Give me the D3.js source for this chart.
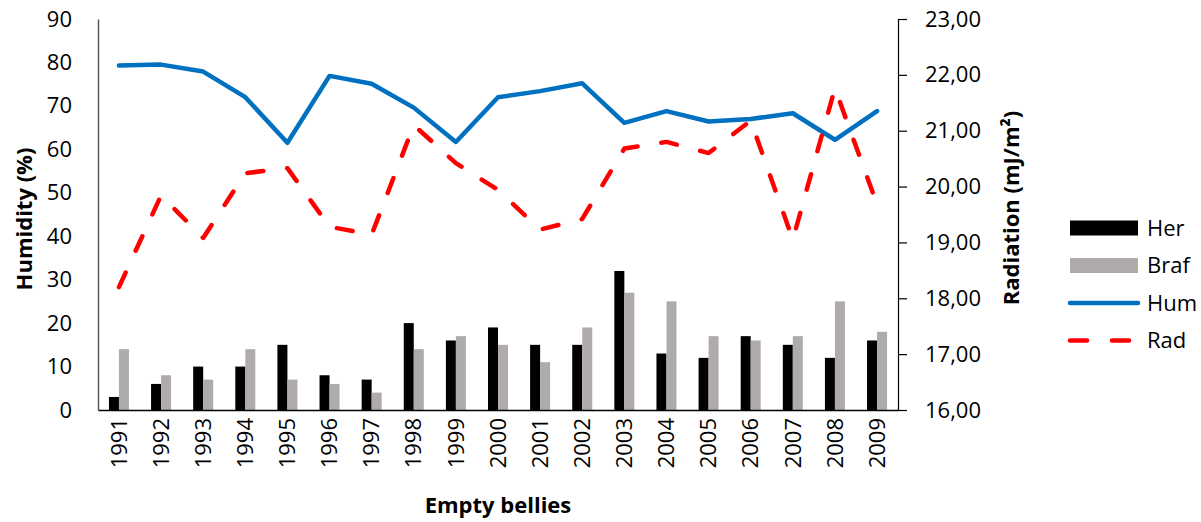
<!DOCTYPE html>
<html lang="en">
	<head>
		<meta charset="utf-8">
		<title>Empty bellies</title>
		<script src="https://cdn.jsdelivr.net/npm/d3@7"></script>
		<style type="text/css">
			body {
				margin: 0;
				background: #fff;
			}
			text {
				font-family: "Open Sans", sans-serif;
			}
			.axis text {
				font-size: 22px;
				fill: #000;
			}
			.title {
				font-size: 22px;
				font-weight: bold;
			}
		</style>
	</head>
	<body>
		<script>

			//Data
			var years = ["1991", "1992", "1993", "1994", "1995", "1996", "1997", "1998", "1999", "2000",
			             "2001", "2002", "2003", "2004", "2005", "2006", "2007", "2008", "2009"];
			var her  = [3, 6, 10, 10, 15, 8, 7, 20, 16, 19, 15, 15, 32, 13, 12, 17, 15, 12, 16];
			var braf = [14, 8, 7, 14, 7, 6, 4, 14, 17, 15, 11, 19, 27, 25, 17, 16, 17, 25, 18];
			var hum  = [79.3, 79.5, 77.9, 72.0, 61.5, 76.9, 75.1, 69.6, 61.7, 72.0,
			            73.4, 75.2, 66.1, 68.8, 66.4, 67.0, 68.3, 62.2, 68.8];
			var rad  = [18.2, 19.84, 19.08, 20.24, 20.33, 19.28, 19.14, 21.1, 20.42, 19.94,
			            19.23, 19.42, 20.68, 20.8, 20.6, 21.18, 19.05, 21.76, 19.68];
			var leftTicks = [0, 10, 20, 30, 40, 50, 60, 70, 80, 90];
			var rightTicks = [16, 17, 18, 19, 20, 21, 22, 23];
			var barSeries = ["Her", "Braf"];

			var w = 1201;
			var h = 522;
			var plotLeft = 98, plotRight = 898, plotTop = 19, plotBottom = 410;

			var svg = d3.select("body")
						.append("svg")
						.attr("width", w)
						.attr("height", h);

			//Scales
			var xScale = d3.scaleBand()
						   .domain(years)
						   .range([plotLeft, plotRight])
						   .paddingInner(0.525)
						   .paddingOuter(0.26);

			var subScale = d3.scaleBand()
							 .domain(barSeries)
							 .range([0, xScale.bandwidth()]);

			var yLeft = d3.scaleLinear()
						  .domain([0, 90])
						  .range([plotBottom, plotTop]);

			var yRight = d3.scaleLinear()
						   .domain([16, 23])
						   .range([plotBottom, plotTop]);

			var barColors = {"Her": "#000000", "Braf": "#AFABAB"};

			function cx(i) {
				return xScale(years[i]) + xScale.bandwidth() / 2;
			}

			//Bars
			var barData = [];
			years.forEach(function(y, i) {
				barData.push({year: y, key: "Her", value: her[i]});
				barData.push({year: y, key: "Braf", value: braf[i]});
			});

			svg.selectAll("rect.bar")
			   .data(barData)
			   .enter()
			   .append("rect")
			   .attr("class", "bar")
			   .attr("x", function(d) { return xScale(d.year) + subScale(d.key); })
			   .attr("y", function(d) { return yLeft(d.value); })
			   .attr("width", subScale.bandwidth())
			   .attr("height", function(d) { return yLeft(0) - yLeft(d.value); })
			   .attr("fill", function(d) { return barColors[d.key]; });

			//Lines
			var humLine = d3.line()
							.x(function(d, i) { return cx(i); })
							.y(function(d) { return yLeft(d); });

			var radLine = d3.line()
							.x(function(d, i) { return cx(i); })
							.y(function(d) { return yRight(d); });

			svg.append("path")
			   .datum(hum)
			   .attr("d", humLine)
			   .attr("fill", "none")
			   .attr("stroke", "#0070C0")
			   .attr("stroke-width", 4.5)
			   .attr("stroke-linejoin", "round")
			   .attr("stroke-linecap", "round");

			svg.append("path")
			   .datum(rad)
			   .attr("d", radLine)
			   .attr("fill", "none")
			   .attr("stroke", "#FF0000")
			   .attr("stroke-width", 4.5)
			   .attr("stroke-dasharray", "16,24")
			   .attr("stroke-linejoin", "round")
			   .attr("stroke-linecap", "round");

			//Axes
			var xAxis = d3.axisBottom(xScale).tickSize(0).tickSizeOuter(0);
			var gx = svg.append("g")
						.attr("class", "axis")
						.attr("transform", "translate(0," + plotBottom + ")")
						.call(xAxis);
			gx.select(".domain").attr("stroke", "#000").attr("stroke-width", 1.5);
			gx.selectAll("text")
			  .attr("transform", "rotate(-90)")
			  .attr("x", -8)
			  .attr("y", 0)
			  .attr("dy", "0.35em")
			  .style("text-anchor", "end");

			var yAxisL = d3.axisLeft(yLeft).tickValues(leftTicks).tickSize(0).tickSizeOuter(0).tickPadding(26);
			var gl = svg.append("g")
						.attr("class", "axis")
						.attr("transform", "translate(" + plotLeft + ",0)")
						.call(yAxisL);
			gl.select(".domain").attr("stroke", "#595959").attr("stroke-width", 1.5);

			var yAxisR = d3.axisRight(yRight)
						   .tickValues(rightTicks)
						   .tickSize(9)
						   .tickSizeOuter(0)
						   .tickPadding(18)
						   .tickFormat(function(d) { return d3.format(".2f")(d).replace(".", ","); });
			var gr = svg.append("g")
						.attr("class", "axis")
						.attr("transform", "translate(" + plotRight + ",0)")
						.call(yAxisR);
			gr.select(".domain").attr("stroke", "#000").attr("stroke-width", 1.2);
			gr.selectAll(".tick line").attr("stroke", "#000").attr("stroke-width", 1.2);

			//Axis titles
			svg.append("text")
			   .attr("class", "title")
			   .attr("transform", "translate(32,219) rotate(-90)")
			   .attr("text-anchor", "middle")
			   .text("Humidity (%)");

			svg.append("text")
			   .attr("class", "title")
			   .attr("transform", "translate(1019,208) rotate(-90)")
			   .attr("text-anchor", "middle")
			   .text("Radiation (mJ/m²)");

			svg.append("text")
			   .attr("class", "title")
			   .attr("x", 498)
			   .attr("y", 513)
			   .attr("text-anchor", "middle")
			   .text("Empty bellies");

			//Legend
			var legendItems = [
				{name: "Her", type: "bar", color: barColors["Her"]},
				{name: "Braf", type: "bar", color: barColors["Braf"]},
				{name: "Hum", type: "line", color: "#0070C0"},
				{name: "Rad", type: "dash", color: "#FF0000"}
			];

			var legend = svg.selectAll("g.legend")
							.data(legendItems)
							.enter()
							.append("g")
							.attr("class", "legend")
							.attr("transform", function(d, i) { return "translate(1070," + (228 + i * 37.5) + ")"; });

			legend.filter(function(d) { return d.type === "bar"; })
				  .append("rect")
				  .attr("x", 0)
				  .attr("y", -7.5)
				  .attr("width", 68)
				  .attr("height", 15)
				  .attr("fill", function(d) { return d.color; });

			legend.filter(function(d) { return d.type !== "bar"; })
				  .append("line")
				  .attr("x1", 0)
				  .attr("x2", 68)
				  .attr("stroke", function(d) { return d.color; })
				  .attr("stroke-width", 4.5)
				  .attr("stroke-linecap", "round")
				  .attr("stroke-dasharray", function(d) { return d.type === "dash" ? "17,25" : null; });

			legend.append("text")
				  .attr("x", 77)
				  .attr("dy", "0.35em")
				  .style("font-size", "22px")
				  .text(function(d) { return d.name; });

		</script>
	</body>
</html>
